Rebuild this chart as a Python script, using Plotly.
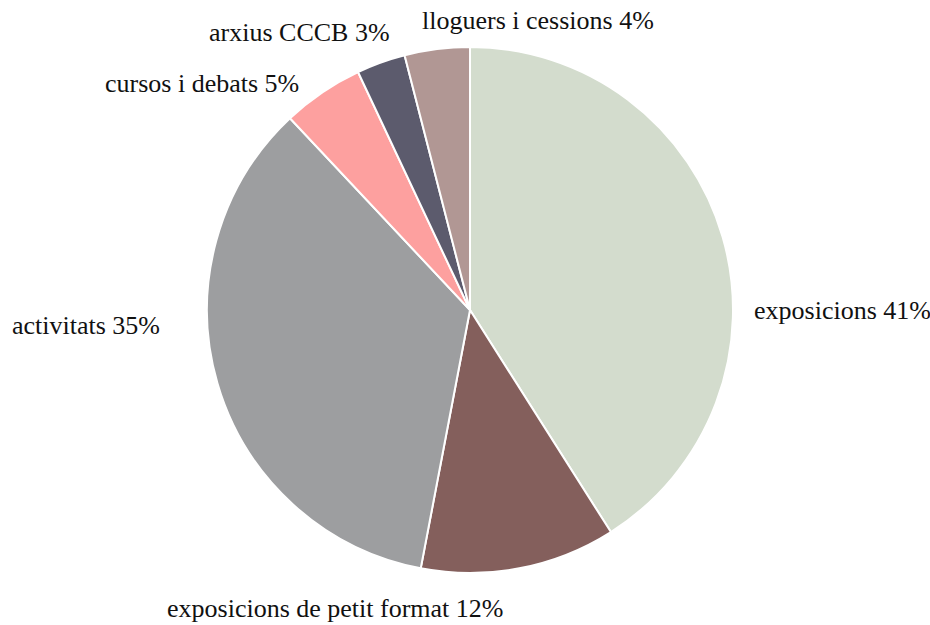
import plotly.graph_objects as go

labels = ["exposicions", "exposicions de petit format", "activitats",
          "cursos i debats", "arxius CCCB", "lloguers i cessions"]
values = [41, 12, 35, 5, 3, 4]
colors = ["#d3dccd", "#845f5c", "#9d9ea0", "#fda09f", "#5c5b6d", "#b19794"]

W, H = 930, 625
cx, cy, r = 470, 310, 263

fig = go.Figure(go.Pie(
    labels=labels,
    values=values,
    sort=False,
    direction="clockwise",
    rotation=0,
    marker=dict(colors=colors, line=dict(color="white", width=2)),
    textinfo="none",
    hoverinfo="label+value",
    showlegend=False,
    domain=dict(x=[(cx - r) / W, (cx + r) / W], y=[(H - cy - r) / H, (H - cy + r) / H]),
))

# label placement (pixel positions of label anchor, anchor side)
label_pos = [
    (752, 310, "left"),
    (165, 608, "left"),
    (10, 325, "left"),
    (103, 83, "left"),
    (207, 33, "left"),
    (420, 20, "left"),
]
for lab, val, (px, py, xa) in zip(labels, values, label_pos):
    fig.add_annotation(
        x=px / W, y=1 - py / H, xref="paper", yref="paper",
        xanchor=xa, yanchor="middle", showarrow=False,
        text=f"{lab} {val}%",
        font=dict(family="Liberation Serif", size=26, color="#111111"),
    )

fig.update_layout(
    width=W, height=H,
    margin=dict(l=0, r=0, t=0, b=0),
    paper_bgcolor="white",
    plot_bgcolor="white",
)

fig.write_html("out.html", config={"displayModeBar": False},
               post_script="document.body.style.margin='0';")
